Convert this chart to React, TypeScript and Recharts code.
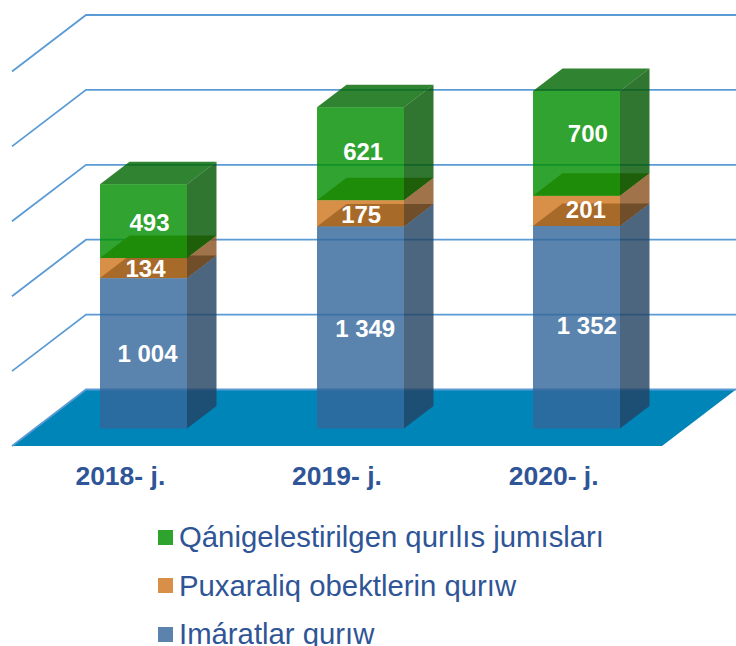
import { Bar, BarChart, CartesianGrid, LabelList, Legend, XAxis, YAxis } from "recharts";

const years = ["2018- j.", "2019- j.", "2020- j."];
const buildings = [1004, 1349, 1352];
const civil = [134, 175, 201];
const renovation = [493, 621, 700];
const yTicks = [0, 500, 1000, 1500, 2000, 2500];

const rows = years.map((year, i) => ({ year, buildings: buildings[i], civil: civil[i], renovation: renovation[i] }));

const W = 736;
const H = 646;
const X_AXIS_HEIGHT = 30;
const BASELINE = 428.5;
const MARGIN = { top: 54, right: 51, bottom: H - BASELINE - X_AXIS_HEIGHT, left: 35 };
// bar depth, and how far the back wall / front floor edge sit from the bar plane
const DEPTH = { dx: 29.5, dy: -22.5 };
const WALL = { dx: 51, dy: -39 };
const FRONT = { dx: -23, dy: 17.5 };
const INK = "#2f5597";
const FONT = "'Liberation Sans', Arial, sans-serif";
const ALPHA = 0.81;

const seriesStyle = {
  buildings: { name: "Imáratlar qurıw", swatch: "#5b83ad", front: "#34669a", side: "#234362", top: "#003a54", topAlpha: 1 },
  civil: { name: "Puxaraliq obektlerin qurıw", swatch: "#d88f48", front: "#cf751e", side: "#8a5320", top: "#9e8334", topAlpha: 1 },
  renovation: { name: "Qánigelestirilgen qurılıs jumısları", swatch: "#2ea32e", front: "#008e00", side: "#005600", top: "#006600", topAlpha: ALPHA },
};
const legendOrder = ["renovation", "civil", "buildings"] as const;

// the labels in the picture were moved by hand off the bar centres
const labelNudge: Record<string, [number, number][]> = {
  buildings: [[4, 0], [5, 1], [10, -2]],
  civil: [[2, 0], [1, 1], [9, -2]],
  renovation: [[6, 1], [3, -2], [11, -10]],
};

const boxShape = (style: { front: string; side: string; top: string; topAlpha: number }) => (props: any) => {
  const { y, width, height } = props;
  const x = Math.round(props.x);
  const { dx, dy } = DEPTH;
  const r = x + width;
  const b = y + height;
  return (
    <g fillOpacity={ALPHA}>
      <path d={`M${x} ${y}L${r} ${y}L${r + dx} ${y + dy}L${x + dx} ${y + dy}Z`} fill={style.top} fillOpacity={style.topAlpha} />
      <path d={`M${r} ${y}L${r + dx} ${y + dy}L${r + dx} ${b + dy}L${r} ${b}Z`} fill={style.side} />
      <rect x={x} y={y} width={width} height={height} fill={style.front} />
    </g>
  );
};

const wallLine = (props: any) => {
  const { x1, x2, y1, key } = props;
  const isFloor = y1 >= BASELINE - 0.5;
  return (
    <g key={key}>
      {isFloor && (
        <path
          d={`M${x1 + FRONT.dx} ${y1 + FRONT.dy}L${x1 + WALL.dx} ${y1 + WALL.dy}L${x2 + WALL.dx} ${y1 + WALL.dy}L${x2 + FRONT.dx} ${y1 + FRONT.dy}Z`}
          fill="#0085b8"
        />
      )}
      <path
        d={`M${x1 + FRONT.dx} ${y1 + FRONT.dy}L${x1 + WALL.dx} ${y1 + WALL.dy}L${x2 + WALL.dx} ${y1 + WALL.dy}`}
        fill="none"
        stroke="#5b9bd5"
        strokeWidth={1.8}
      />
    </g>
  );
};

const yearTick = (props: any) => (
  <text x={props.x + FRONT.dx} y={485} textAnchor="middle" fontFamily={FONT} fontWeight="bold" fontSize={26.5} fill={INK}>
    {props.payload.value}
  </text>
);

const valueLabel = (seriesKey: keyof typeof labelNudge) => (props: any) => {
  const { x, y, width, height, value, index } = props;
  const [nx, ny] = labelNudge[seriesKey][index];
  const text = value >= 1000 ? `${Math.floor(value / 1000)} ${String(value % 1000).padStart(3, "0")}` : String(value);
  return (
    <text x={x + width / 2 + nx} y={y + height / 2 + ny} dy="0.36em" textAnchor="middle" fontFamily={FONT} fontWeight="bold" fontSize={24} fill="#fff">
      {text}
    </text>
  );
};

const LegendBlock = () => (
  <div style={{ fontFamily: FONT, fontSize: 29.3, color: INK }}>
    {legendOrder.map((k) => (
      <div key={k} style={{ display: "flex", alignItems: "center", height: 48.5, whiteSpace: "nowrap" }}>
        <span style={{ width: 15, height: 15, background: seriesStyle[k].swatch, marginRight: 6 }} />
        {seriesStyle[k].name}
      </div>
    ))}
  </div>
);

export default function App() {
  return (
    <div style={{ position: "absolute", left: 0, top: 0, width: W, height: H, overflow: "hidden", background: "#fff" }}>
      <BarChart width={W} height={H} data={rows} margin={MARGIN} barSize={87}>
        <CartesianGrid vertical={false} horizontal={wallLine} />
        <XAxis dataKey="year" height={X_AXIS_HEIGHT} axisLine={false} tickLine={false} tick={yearTick} interval={0} />
        <YAxis hide domain={[0, 2500]} ticks={yTicks} />
        {legendOrder
          .slice()
          .reverse()
          .map((k) => (
            <Bar key={k} dataKey={k} stackId="a" isAnimationActive={false} shape={boxShape(seriesStyle[k])}>
              <LabelList dataKey={k} content={valueLabel(k)} />
            </Bar>
          ))}
        <Legend
          layout="vertical"
          align="center"
          verticalAlign="middle"
          content={<LegendBlock />}
          wrapperStyle={{ position: "absolute", left: 158, top: 513, width: 560, bottom: "auto" }}
        />
      </BarChart>
    </div>
  );
}
